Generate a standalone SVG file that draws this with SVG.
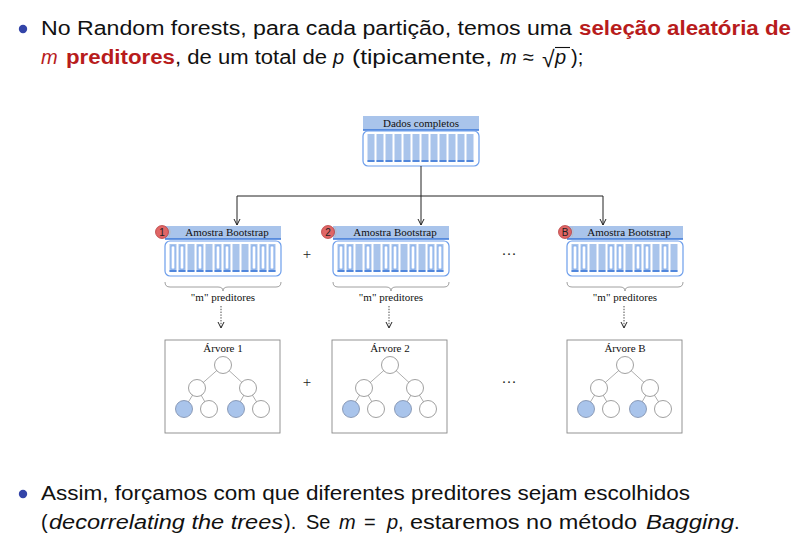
<svg xmlns="http://www.w3.org/2000/svg" xmlns:xlink="http://www.w3.org/1999/xlink" width="812" height="546" viewBox="0 0 812 546">
  <style>
    .body { font-family: "Liberation Sans", "DejaVu Sans", sans-serif; font-size: 20px; fill: #111; }
    .alert { fill: #b81c1c; font-weight: bold; }
    .ital { font-style: italic; }
    .lbl { font-family: "Liberation Serif", "DejaVu Serif", serif; font-size: 11px; fill: #111; }
    .hdr { fill: #a9c4eb; }
    .hdrline { stroke: #3c78d8; stroke-width: 1.6; }
    .frame { fill: #fff; stroke: #6d9eeb; stroke-width: 1.2; }
    .brace { fill: none; stroke: #888; stroke-width: 0.8; }
    .tbox { fill: #fff; stroke: #888; stroke-width: 0.9; }
    .edge { stroke: #999; stroke-width: 0.8; }
    .node { fill: #fff; stroke: #888; stroke-width: 0.8; }
    .leaf { fill: #a9c4eb; stroke: #7a8aa8; stroke-width: 0.8; }
    .badge { fill: #e06666; stroke: #b03030; stroke-width: 0.7; }
    .badgetxt { font-family: "Liberation Sans", sans-serif; font-size: 10px; fill: #222; text-anchor: middle; }
    .link { fill: none; stroke: #222; stroke-width: 1; }
    .dotted { fill: none; stroke: #333; stroke-width: 0.9; stroke-dasharray: 1.4 1.4; }
    .sym { font-family: "Liberation Serif", serif; font-size: 15px; fill: #222; text-anchor: middle; }
  </style>
  <defs>
    <marker id="arrow" viewBox="0 0 8 8" refX="7" refY="4" markerWidth="8" markerHeight="8" markerUnits="userSpaceOnUse" orient="auto">
      <path d="M1,1 L7,4 L1,7" fill="none" stroke="#222" stroke-width="1"/>
    </marker>
    <!-- data column: filled (original sample) -->
    <g id="barF">
      <rect x="0" y="0" width="7" height="28" fill="#a9c4eb"/>
      <line x1="0" y1="27" x2="7" y2="27" stroke="#3c78d8" stroke-width="1.6"/>
    </g>
    <!-- data column: hollow (resampled) -->
    <g id="barH">
      <rect x="0" y="0" width="7" height="28" fill="#a9c4eb"/>
      <rect x="1.6" y="2" width="3.8" height="23" fill="#fff" stroke="#6d9eeb" stroke-width="0.7"/>
      <line x1="0" y1="27" x2="7" y2="27" stroke="#3c78d8" stroke-width="1.6"/>
    </g>
    <!-- tree glyph, origin at box centre / title baseline -->
    <g id="tree">
      <line class="edge" x1="0" y1="12" x2="-26" y2="35"/>
      <line class="edge" x1="0" y1="12" x2="25" y2="35"/>
      <line class="edge" x1="-26" y1="35" x2="-39" y2="56"/>
      <line class="edge" x1="-26" y1="35" x2="-14" y2="56"/>
      <line class="edge" x1="25" y1="35" x2="13" y2="56"/>
      <line class="edge" x1="25" y1="35" x2="38" y2="56"/>
      <circle class="node" cx="0" cy="12" r="8.5"/>
      <circle class="node" cx="-26" cy="35" r="8.5"/>
      <circle class="node" cx="25" cy="35" r="8.5"/>
      <circle class="leaf" cx="-39" cy="56" r="8.5"/>
      <circle class="node" cx="-14" cy="56" r="8.5"/>
      <circle class="leaf" cx="13" cy="56" r="8.5"/>
      <circle class="node" cx="38" cy="56" r="8.5"/>
    </g>
  </defs>

  <rect width="812" height="546" fill="#fff"/>

  <!-- heading bullet -->
  <g id="intro">
    <circle cx="23" cy="29" r="4.2" fill="#3344a8"/>
    <text class="body" x="41" y="35" textLength="531" lengthAdjust="spacingAndGlyphs">No Random forests, para cada partição, temos uma</text>
    <text class="body alert" x="579" y="35" textLength="212" lengthAdjust="spacingAndGlyphs">seleção aleatória de</text>
    <text class="body ital" x="41" y="64" style="fill:#b81c1c">m</text>
    <text class="body alert" x="66" y="64" textLength="109" lengthAdjust="spacingAndGlyphs">preditores</text>
    <text class="body" x="175" y="64" textLength="152" lengthAdjust="spacingAndGlyphs">, de um total de</text>
    <text class="body ital" x="333" y="64">p</text>
    <text class="body" x="352" y="64" textLength="140" lengthAdjust="spacingAndGlyphs">(tipicamente,</text>
    <text class="body ital" x="500" y="64">m</text>
    <text class="body" x="523" y="64">≈</text>
    <text class="body" x="542" y="67" style="font-size:23px">√</text>
    <line x1="555" y1="47.5" x2="570" y2="47.5" stroke="#111" stroke-width="1.1"/>
    <text class="body ital" x="555" y="64">p</text>
    <text class="body" x="571" y="64">);</text>
  </g>

  <!-- full data set -->
  <g id="dados">
    <rect class="hdr" x="363" y="116" width="116" height="14"/>
    <line class="hdrline" x1="363" y1="130" x2="479" y2="130"/>
    <text class="lbl" x="421" y="127" text-anchor="middle">Dados completos</text>
    <rect class="frame" x="363" y="131" width="116" height="35" rx="5"/>
    <use xlink:href="#barF" x="367.5" y="134"/>
    <use xlink:href="#barF" x="376.5" y="134"/>
    <use xlink:href="#barF" x="385.5" y="134"/>
    <use xlink:href="#barF" x="394.5" y="134"/>
    <use xlink:href="#barF" x="403.5" y="134"/>
    <use xlink:href="#barF" x="412.5" y="134"/>
    <use xlink:href="#barF" x="421.5" y="134"/>
    <use xlink:href="#barF" x="430.5" y="134"/>
    <use xlink:href="#barF" x="439.5" y="134"/>
    <use xlink:href="#barF" x="448.5" y="134"/>
    <use xlink:href="#barF" x="457.5" y="134"/>
    <use xlink:href="#barF" x="466.5" y="134"/>
  </g>

  <!-- bootstrap sample 1 -->
  <g id="amostra1">
    <rect class="hdr" x="165" y="226" width="116" height="13"/>
    <line class="hdrline" x1="165" y1="239" x2="281" y2="239"/>
    <text class="lbl" x="227" y="236" text-anchor="middle">Amostra Bootstrap</text>
    <rect class="frame" x="165" y="241" width="116" height="35" rx="5"/>
    <use xlink:href="#barH" x="169.5" y="244"/>
    <use xlink:href="#barH" x="178.5" y="244"/>
    <use xlink:href="#barF" x="187.5" y="244"/>
    <use xlink:href="#barH" x="196.5" y="244"/>
    <use xlink:href="#barF" x="205.5" y="244"/>
    <use xlink:href="#barH" x="214.5" y="244"/>
    <use xlink:href="#barH" x="223.5" y="244"/>
    <use xlink:href="#barF" x="232.5" y="244"/>
    <use xlink:href="#barF" x="241.5" y="244"/>
    <use xlink:href="#barH" x="250.5" y="244"/>
    <use xlink:href="#barH" x="259.5" y="244"/>
    <use xlink:href="#barH" x="268.5" y="244"/>
    <circle class="badge" cx="162" cy="232" r="6.5"/>
    <text class="badgetxt" x="162" y="235.5">1</text>
    <path d="M169,227 q2.5,5 0,10" fill="none" stroke="#bbb" stroke-width="0.8"/>
    <path class="brace" d="M165,282 q0,5 5,5 L218,287 q5,0 5,4 q0,-4 5,-4 L276,287 q5,0 5,-5"/>
    <text class="lbl" x="223" y="301" text-anchor="middle">"m" preditores</text>
  </g>

  <!-- bootstrap sample 2 -->
  <g id="amostra2">
    <rect class="hdr" x="333" y="226" width="116" height="13"/>
    <line class="hdrline" x1="333" y1="239" x2="449" y2="239"/>
    <text class="lbl" x="395" y="236" text-anchor="middle">Amostra Bootstrap</text>
    <rect class="frame" x="333" y="241" width="116" height="35" rx="5"/>
    <use xlink:href="#barH" x="337.5" y="244"/>
    <use xlink:href="#barH" x="346.5" y="244"/>
    <use xlink:href="#barF" x="355.5" y="244"/>
    <use xlink:href="#barH" x="364.5" y="244"/>
    <use xlink:href="#barF" x="373.5" y="244"/>
    <use xlink:href="#barH" x="382.5" y="244"/>
    <use xlink:href="#barH" x="391.5" y="244"/>
    <use xlink:href="#barF" x="400.5" y="244"/>
    <use xlink:href="#barH" x="409.5" y="244"/>
    <use xlink:href="#barF" x="418.5" y="244"/>
    <use xlink:href="#barH" x="427.5" y="244"/>
    <use xlink:href="#barH" x="436.5" y="244"/>
    <circle class="badge" cx="328" cy="232" r="6.5"/>
    <text class="badgetxt" x="328" y="235.5">2</text>
    <path d="M335,227 q2.5,5 0,10" fill="none" stroke="#bbb" stroke-width="0.8"/>
    <path class="brace" d="M333,282 q0,5 5,5 L386,287 q5,0 5,4 q0,-4 5,-4 L444,287 q5,0 5,-5"/>
    <text class="lbl" x="391" y="301" text-anchor="middle">"m" preditores</text>
  </g>

  <!-- bootstrap sample B -->
  <g id="amostraB">
    <rect class="hdr" x="567" y="226" width="116" height="13"/>
    <line class="hdrline" x1="567" y1="239" x2="683" y2="239"/>
    <text class="lbl" x="629" y="236" text-anchor="middle">Amostra Bootstrap</text>
    <rect class="frame" x="567" y="241" width="116" height="35" rx="5"/>
    <use xlink:href="#barH" x="571.5" y="244"/>
    <use xlink:href="#barH" x="580.5" y="244"/>
    <use xlink:href="#barF" x="589.5" y="244"/>
    <use xlink:href="#barF" x="598.5" y="244"/>
    <use xlink:href="#barH" x="607.5" y="244"/>
    <use xlink:href="#barH" x="616.5" y="244"/>
    <use xlink:href="#barF" x="625.5" y="244"/>
    <use xlink:href="#barH" x="634.5" y="244"/>
    <use xlink:href="#barH" x="643.5" y="244"/>
    <use xlink:href="#barF" x="652.5" y="244"/>
    <use xlink:href="#barH" x="661.5" y="244"/>
    <use xlink:href="#barF" x="670.5" y="244"/>
    <circle class="badge" cx="565" cy="232" r="6.5"/>
    <text class="badgetxt" x="565" y="235.5">B</text>
    <path d="M572,227 q2.5,5 0,10" fill="none" stroke="#bbb" stroke-width="0.8"/>
    <path class="brace" d="M567,282 q0,5 5,5 L620,287 q5,0 5,4 q0,-4 5,-4 L678,287 q5,0 5,-5"/>
    <text class="lbl" x="625" y="301" text-anchor="middle">"m" preditores</text>
  </g>

  <!-- trees -->
  <g id="arvore1">
    <rect class="tbox" x="165" y="340" width="115" height="93"/>
    <text class="lbl" x="223" y="352" text-anchor="middle">Árvore 1</text>
    <use xlink:href="#tree" x="223" y="353"/>
  </g>
  <g id="arvore2">
    <rect class="tbox" x="332" y="340" width="115" height="93"/>
    <text class="lbl" x="390" y="352" text-anchor="middle">Árvore 2</text>
    <use xlink:href="#tree" x="390" y="353"/>
  </g>
  <g id="arvoreB">
    <rect class="tbox" x="567" y="340" width="115" height="93"/>
    <text class="lbl" x="625" y="352" text-anchor="middle">Árvore B</text>
    <use xlink:href="#tree" x="625" y="353"/>
  </g>

  <!-- separators between samples -->
  <g id="separadores">
    <text class="sym" x="307" y="259">+</text>
    <text class="sym" x="509" y="259">···</text>
    <text class="sym" x="307" y="387">+</text>
    <text class="sym" x="509" y="387">···</text>
  </g>

  <!-- connectors -->
  <g id="connectors">
    <polyline class="link" points="421,166 421,196"/>
    <polyline class="link" points="237,196 603,196"/>
    <line class="link" x1="237" y1="196" x2="237" y2="225" marker-end="url(#arrow)"/>
    <line class="link" x1="421" y1="196" x2="421" y2="225" marker-end="url(#arrow)"/>
    <line class="link" x1="603" y1="196" x2="603" y2="225" marker-end="url(#arrow)"/>
    <line class="dotted" x1="221" y1="306" x2="221" y2="328" marker-end="url(#arrow)"/>
    <line class="dotted" x1="389" y1="306" x2="389" y2="328" marker-end="url(#arrow)"/>
    <line class="dotted" x1="624" y1="306" x2="624" y2="328" marker-end="url(#arrow)"/>
  </g>

  <!-- closing bullet -->
  <g id="conclusao">
    <circle cx="23" cy="494" r="4.2" fill="#3344a8"/>
    <text class="body" x="41" y="500" textLength="649" lengthAdjust="spacingAndGlyphs">Assim, forçamos com que diferentes preditores sejam escolhidos</text>
    <text class="body" x="41" y="529">(</text>
    <text class="body ital" x="49" y="529" textLength="234" lengthAdjust="spacingAndGlyphs">decorrelating the trees</text>
    <text class="body" x="284" y="529">).</text>
    <text class="body" x="306" y="529">Se</text>
    <text class="body ital" x="339" y="529">m</text>
    <text class="body" x="364" y="529">=</text>
    <text class="body ital" x="387" y="529">p</text>
    <text class="body" x="398" y="529">,</text>
    <text class="body" x="410" y="529" textLength="227" lengthAdjust="spacingAndGlyphs">estaremos no método</text>
    <text class="body ital" x="646" y="529" textLength="88" lengthAdjust="spacingAndGlyphs">Bagging</text>
    <text class="body" x="734" y="529">.</text>
  </g>
</svg>
